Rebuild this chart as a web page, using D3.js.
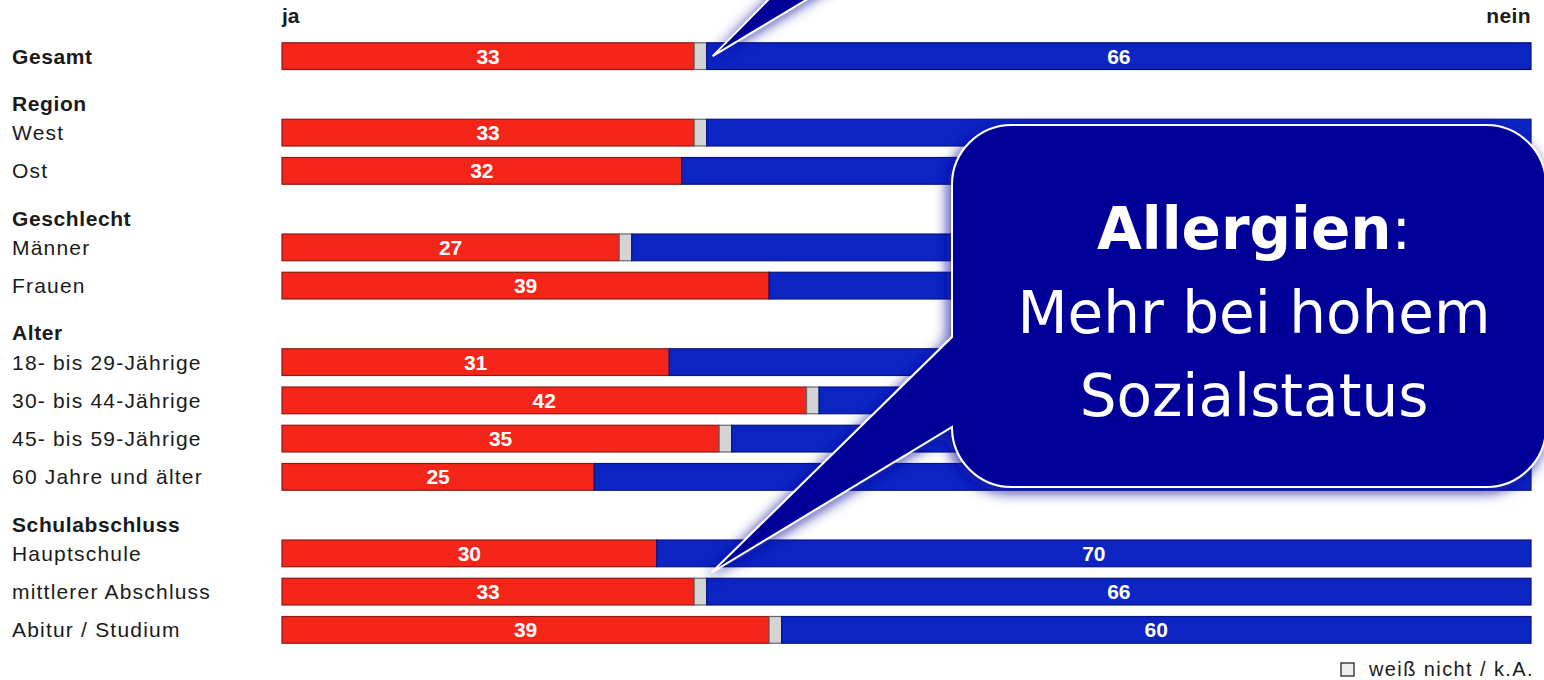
<!DOCTYPE html>
<html>
<head>
<meta charset="utf-8">
<script src="https://cdn.jsdelivr.net/npm/d3@7/dist/d3.min.js"></script>
<style>
  html, body { margin: 0; padding: 0; background: #ffffff; }
  svg { display: block; }
  .lbl { font-family: "Liberation Sans", Arial, Helvetica, sans-serif; font-size: 21px; fill: #1a1a1a; letter-spacing: 1.2px; }
  .hdr { font-weight: bold; letter-spacing: 0.6px; }
  .val { font-family: "Liberation Sans", Arial, sans-serif; font-weight: bold; font-size: 21px; fill: #ffffff; }
  .callout-text { font-family: "DejaVu Sans", Verdana, sans-serif; font-size: 58px; fill: #ffffff; }
</style>
</head>
<body>
<script>
// Layout slots from top to bottom (group headings included)
const slots = [
  "Gesamt",
  "Region", "West", "Ost",
  "Geschlecht", "Männer", "Frauen",
  "Alter", "18- bis 29-Jährige", "30- bis 44-Jährige", "45- bis 59-Jährige", "60 Jahre und älter",
  "Schulabschluss", "Hauptschule", "mittlerer Abschluss", "Abitur / Studium"
];
const headers = ["Region", "Geschlecht", "Alter", "Schulabschluss"];

// Bars
const categories = [
  "Gesamt", "West", "Ost", "Männer", "Frauen",
  "18- bis 29-Jährige", "30- bis 44-Jährige", "45- bis 59-Jährige", "60 Jahre und älter",
  "Hauptschule", "mittlerer Abschluss", "Abitur / Studium"
];
const jaValues    = [33, 33, 32, 27, 39, 31, 42, 35, 25, 30, 33, 39];
const wnValues    = [ 1,  1,  0,  1,  0,  0,  1,  1,  0,  0,  1,  1];
const neinValues  = [66, 66, 68, 72, 61, 69, 57, 64, 75, 70, 66, 60];

const seriesKeys   = ["ja", "wn", "nein"];
const seriesColors = ["#f6251a", "#d4d4d4", "#0b24c2"];
const seriesStroke = ["#8a1a12", "#6a6a6a", "#07157a"];

const axisLeftLabel  = "ja";
const axisRightLabel = "nein";
const legendLabel    = "weiß nicht / k.A.";

const calloutTitle = "Allergien";
const calloutLines = ["Mehr bei hohem", "Sozialstatus"];

const W = 1544, H = 680;

const rows = categories.map((c, i) => ({ cat: c, ja: jaValues[i], wn: wnValues[i], nein: neinValues[i] }));
const stacked = d3.stack().keys(seriesKeys)(rows);

const x = d3.scaleLinear().domain([0, 100]).range([282, 1531]);
const y = d3.scaleBand().domain(slots).range([37, 649]).paddingInner(0.27).paddingOuter(0.135);
const color = d3.scaleOrdinal().domain(seriesKeys).range(seriesColors);
const strokeC = d3.scaleOrdinal().domain(seriesKeys).range(seriesStroke);

// speech bubble box
const bx0 = 952, bx1 = 1546, by0 = 125, by1 = 487, r = 60;
const underBubble = (px, py) => px > bx0 - 10 && px < bx1 && py > by0 && py < by1;

const svg = d3.select("body").append("svg").attr("width", W).attr("height", H);

// soft shadow for the callouts
const defs = svg.append("defs");
const f = defs.append("filter").attr("id", "glow").attr("x", "-20%").attr("y", "-20%").attr("width", "140%").attr("height", "140%");
f.append("feGaussianBlur").attr("in", "SourceAlpha").attr("stdDeviation", 7).attr("result", "b");
f.append("feOffset").attr("in", "b").attr("dx", -3).attr("dy", 4).attr("result", "o");
f.append("feFlood").attr("flood-color", "#10109a").attr("flood-opacity", 0.85).attr("result", "c");
f.append("feComposite").attr("in", "c").attr("in2", "o").attr("operator", "in").attr("result", "s");
const m = f.append("feMerge");
m.append("feMergeNode").attr("in", "s");
m.append("feMergeNode").attr("in", "SourceGraphic");

// Row labels
svg.append("g").selectAll("text")
  .data(slots)
  .join("text")
  .attr("class", d => "lbl" + (headers.includes(d) || d === "Gesamt" ? " hdr" : ""))
  .attr("x", 12)
  .attr("y", d => y(d) + y.bandwidth() / 2 + (headers.includes(d) ? 9 : 0))
  .attr("dy", "0.36em")
  .text(d => d);

// Stacked segments
const bh = y.bandwidth();
svg.append("g").selectAll("g")
  .data(stacked)
  .join("g")
  .attr("fill", d => color(d.key))
  .attr("stroke", d => strokeC(d.key))
  .attr("stroke-width", 1.2)
  .selectAll("rect")
  .data(d => d.filter(s => s[1] - s[0] > 0))
  .join("rect")
  .attr("x", s => x(s[0]))
  .attr("y", s => y(s.data.cat) + 0.6)
  .attr("width", s => x(s[1]) - x(s[0]))
  .attr("height", bh - 1.2);

// Value labels (ja and nein); those hidden behind the bubble are left out
svg.append("g").selectAll("g")
  .data(stacked.filter(d => d.key !== "wn"))
  .join("g")
  .selectAll("text")
  .data(d => d.filter(s => !underBubble((x(s[0]) + x(s[1])) / 2, y(s.data.cat) + bh / 2)))
  .join("text")
  .attr("class", "val")
  .attr("text-anchor", "middle")
  .attr("x", s => (x(s[0]) + x(s[1])) / 2)
  .attr("y", s => y(s.data.cat) + bh / 2)
  .attr("dy", "0.36em")
  .text(s => s[1] - s[0]);

// Column headings
svg.append("text").attr("class", "lbl hdr").attr("x", x(0)).attr("y", 23)
  .style("font-size", "21px").style("letter-spacing", "0px").text(axisLeftLabel);
svg.append("text").attr("class", "lbl hdr").attr("x", x(100)).attr("y", 23)
  .attr("text-anchor", "end").style("font-size", "21px").style("letter-spacing", "0.4px").text(axisRightLabel);

// Legend
const lg = svg.append("g").attr("transform", "translate(1341,663)");
lg.append("rect").attr("width", 13).attr("height", 13).attr("fill", "#eeeeee").attr("stroke", "#333").attr("stroke-width", 1.4);
lg.append("text").attr("class", "lbl").attr("x", 28).attr("y", 12.5)
  .style("font-size", "20px").style("letter-spacing", "1.4px").text(legendLabel);

// Callouts
const gx = rows[0];
const tipTop = [x(gx.ja + gx.wn) + 6, y("Gesamt") + bh / 2];
const tipLow = [x(34.4), (y("Hauptschule") + bh + y("mittlerer Abschluss")) / 2];

const cg = svg.append("g");
// small pointer coming from above
cg.append("path")
  .attr("d", d3.line()([[tipTop[0] + 80, -25], tipTop, [tipTop[0] + 135, -25]]) + "Z")
  .attr("fill", "#000099")
  .attr("filter", "url(#glow)");
cg.append("path")
  .attr("d", d3.line()([[tipTop[0] + 80, -25], tipTop, [tipTop[0] + 135, -25]]))
  .attr("fill", "none").attr("stroke", "#ffffff").attr("stroke-width", 2);

// main speech bubble
const p = d3.path();
p.moveTo(bx0 + r, by0);
p.lineTo(bx1 - r, by0);
p.arcTo(bx1, by0, bx1, by0 + r, r);
p.lineTo(bx1, by1 - r);
p.arcTo(bx1, by1, bx1 - r, by1, r);
p.lineTo(bx0 + r, by1);
p.arcTo(bx0, by1, bx0, by1 - r, r);
p.lineTo(tipLow[0], tipLow[1]);
p.lineTo(bx0, 337);
p.lineTo(bx0, by0 + r);
p.arcTo(bx0, by0, bx0 + r, by0, r);
p.closePath();
cg.append("path").attr("d", p.toString())
  .attr("fill", "#000099")
  .attr("stroke", "#ffffff").attr("stroke-width", 2)
  .attr("filter", "url(#glow)");

const cx = 1254;
const t1 = cg.append("text").attr("class", "callout-text").attr("x", cx).attr("y", 249).attr("text-anchor", "middle");
t1.append("tspan").style("font-weight", "bold").text(calloutTitle);
t1.append("tspan").text(":");
calloutLines.forEach((l, i) => {
  cg.append("text").attr("class", "callout-text").attr("x", cx).attr("y", 333 + i * 83)
    .attr("text-anchor", "middle").text(l);
});
</script>
</body>
</html>
